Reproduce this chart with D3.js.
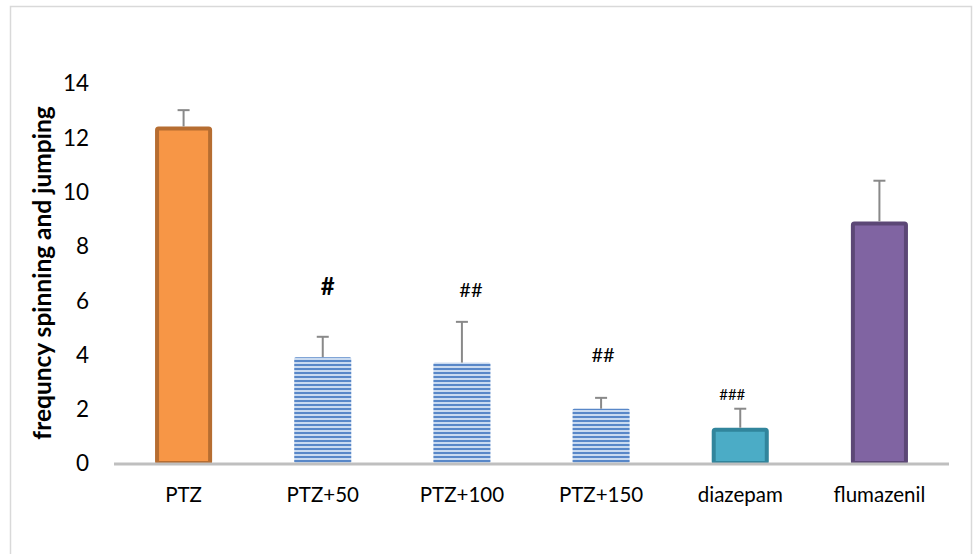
<!DOCTYPE html>
<html><head><meta charset="utf-8">
<script src="https://cdn.jsdelivr.net/npm/d3@7"></script>
<style>body{margin:0;background:#fff;} svg{display:block;}</style>
</head><body>
<svg id="c" width="974" height="554"></svg>
<script>
const categories = ["PTZ","PTZ+50","PTZ+100","PTZ+150","diazepam","flumazenil"];
const values = [12.4, 3.9, 3.7, 2.0, 1.3, 8.9];
const errors = [0.6, 0.75, 1.5, 0.4, 0.7, 1.5];
const marks = ["", "#", "##", "##", "###", ""];
const yTicks = [0,2,4,6,8,10,12,14];
const fills = ["#F79646","url(#stripes)","url(#stripes)","url(#stripes)","#4BACC6","#8064A2"];
const strokes = ["#B66D31","none","none","none","#31859C","#5C4776"];

const svg = d3.select("#c");
const font = "Lato, 'Open Sans', sans-serif";

// frame
svg.append("rect").attr("x",10.5).attr("y",6.5).attr("width",961).attr("height",580)
  .attr("fill","none").attr("stroke","#d9d9d9").attr("stroke-width",1.5);

const defs = svg.append("defs");
const pat = defs.append("pattern").attr("id","stripes").attr("patternUnits","userSpaceOnUse")
  .attr("width",8).attr("height",4);
pat.append("rect").attr("width",8).attr("height",4).attr("fill","#c9daf0");
pat.append("rect").attr("y",0).attr("width",8).attr("height",2).attr("fill","#5887c8");

const x = d3.scaleBand().domain(categories).range([114,949]).paddingInner(0.59).paddingOuter(0.295);
const y = d3.scaleLinear().domain([0,14]).range([463,83]);

// y tick labels
const ya = svg.append("g").attr("transform","translate(89,0)")
  .call(d3.axisLeft(y).tickValues(yTicks).tickSize(0).tickPadding(0));
ya.select(".domain").remove();
ya.selectAll("text").attr("font-family",font).attr("font-size",22.5).attr("fill","#000").attr("dy","0.35em");

// bars
const bw = x.bandwidth();
svg.append("g").selectAll("rect").data(categories).join("rect")
  .attr("x",(d,i)=> x(d) + (strokes[i]==="none"?0:2))
  .attr("y",(d,i)=> y(values[i]) + (strokes[i]==="none"?0:2))
  .attr("width",(d,i)=> bw - (strokes[i]==="none"?0:4))
  .attr("height",(d,i)=> y(0)-y(values[i]) - (strokes[i]==="none"?0:2))
  .attr("fill",(d,i)=>fills[i])
  .attr("stroke",(d,i)=>strokes[i])
  .attr("stroke-width",4)
  .attr("rx",1.5);

// x axis line
svg.append("line").attr("x1",114).attr("x2",949).attr("y1",y(0)+1).attr("y2",y(0)+1)
  .attr("stroke","#bfbfbf").attr("stroke-width",3);

// error bars
const eg = svg.append("g").attr("stroke","#898989").attr("stroke-width",2);
categories.forEach((c,i)=>{
  const cx = x(c)+bw/2;
  eg.append("line").attr("x1",cx).attr("x2",cx).attr("y1",y(values[i])).attr("y2",y(values[i]+errors[i]));
  eg.append("line").attr("x1",cx-6).attr("x2",cx+6).attr("y1",y(values[i]+errors[i])).attr("y2",y(values[i]+errors[i]));
});

// significance marks
const markSize = [0,24,20,20,15,0];
const markDx = [0,5,9,2,-8,0];
const markDy = [0,50,32,43,14,0];
categories.forEach((c,i)=>{
  if(!marks[i]) return;
  svg.append("text").attr("x",x(c)+bw/2+markDx[i])
    .attr("y",y(values[i]+errors[i]) - markDy[i])
    .attr("dy","0.35em")
    .attr("text-anchor","middle").attr("font-family",font)
    .attr("font-size",markSize[i]).attr("font-weight",i===1?"bold":"normal")
    .attr("fill","#000").text(marks[i]);
});

// x labels
const xa = svg.append("g").attr("transform","translate(0,495)")
  .call(d3.axisBottom(x).tickSize(0).tickPadding(0));
xa.select(".domain").remove();
xa.selectAll("text").attr("font-family",font).attr("font-size",20.5).attr("fill","#000").attr("dy","0.35em");

// y label
svg.append("text").attr("transform","translate(42,273) rotate(-90)")
  .attr("dy","0.35em")
  .attr("text-anchor","middle").attr("font-family",font).attr("font-size",24.5)
  .attr("font-weight","bold").attr("fill","#000").text("frequncy spinning and jumping");
</script>
</body></html>
